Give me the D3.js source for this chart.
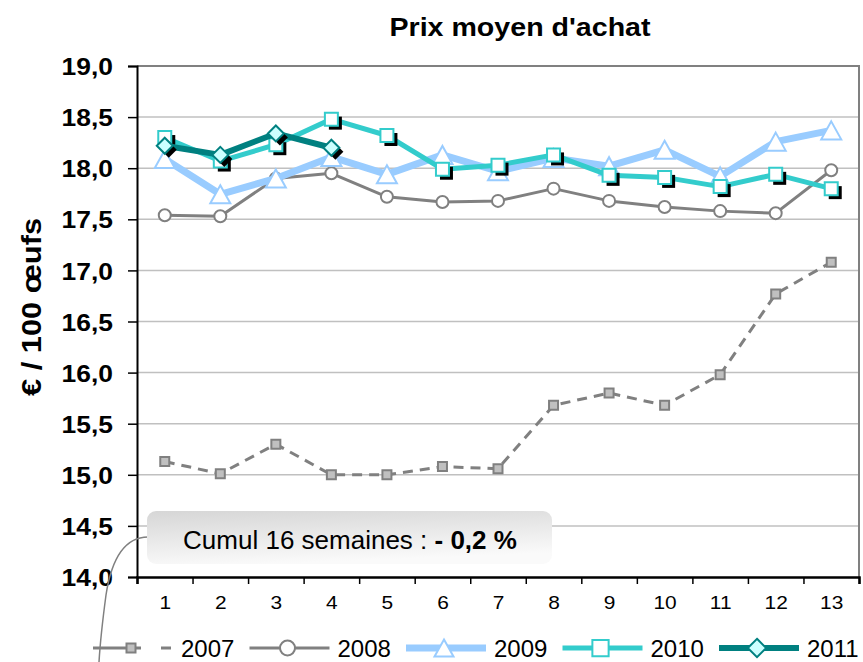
<!DOCTYPE html>
<html>
<head>
<meta charset="utf-8">
<script src="https://cdn.jsdelivr.net/npm/d3@7"></script>
<style>
  html, body { margin: 0; padding: 0; background: #fff; }
  svg { display: block; font-family: "Liberation Sans", Arial, sans-serif; }
</style>
</head>
<body>
<svg id="chart" width="863" height="662"></svg>
<script>
// Weekly average purchase price, € per 100 eggs
const categories = [1, 2, 3, 4, 5, 6, 7, 8, 9, 10, 11, 12, 13];
const years = ["2007", "2008", "2009", "2010", "2011"];
const v2007 = [15.13, 15.01, 15.30, 15.00, 15.00, 15.08, 15.06, 15.68, 15.80, 15.68, 15.98, 16.77, 17.08];
const v2008 = [17.54, 17.53, 17.90, 17.95, 17.72, 17.67, 17.68, 17.80, 17.68, 17.62, 17.58, 17.56, 17.98];
const v2009 = [18.09, 17.745, 17.90, 18.11, 17.94, 18.13, 17.97, 18.10, 18.02, 18.18, 17.92, 18.26, 18.37];
const v2010 = [18.30, 18.07, 18.23, 18.48, 18.32, 17.99, 18.03, 18.13, 17.93, 17.91, 17.82, 17.94, 17.80];
const v2011 = [18.22, 18.13, 18.34, 18.20];
const yTicks = [14.0, 14.5, 15.0, 15.5, 16.0, 16.5, 17.0, 17.5, 18.0, 18.5, 19.0];
const yTickLabels = ["14,0", "14,5", "15,0", "15,5", "16,0", "16,5", "17,0", "17,5", "18,0", "18,5", "19,0"];
const titleText = "Prix moyen d'achat";
const yTitleText = "€ / 100 œufs";
const noteText = "Cumul 16 semaines : ";
const noteValue = "- 0,2 %";

const svg = d3.select("#chart");
const plot = { left: 137, right: 859, top: 66, bottom: 577 };

const x = d3.scaleLinear().domain([0.5, 13.5]).range([plot.left, plot.right]);
const y = d3.scaleLinear().domain([14, 19]).range([plot.bottom, plot.top]);

// widen glyphs slightly along the text direction
function stretch(sel, k) {
  sel.each(function () {
    const len = this.getComputedTextLength();
    d3.select(this).attr("textLength", len * k).attr("lengthAdjust", "spacingAndGlyphs");
  });
}

// gradient for the note box
const defs = svg.append("defs");
const grad = defs.append("linearGradient").attr("id", "noteFill")
  .attr("x1", "0").attr("y1", "0").attr("x2", "0.3").attr("y2", "1");
grad.append("stop").attr("offset", "0").attr("stop-color", "#d6d6d6");
grad.append("stop").attr("offset", "1").attr("stop-color", "#fafafa");

// horizontal gridlines
svg.append("g").selectAll("line")
  .data(yTicks.filter(t => t > 14 && t < 19))
  .join("line")
  .attr("x1", plot.left).attr("x2", plot.right)
  .attr("y1", d => y(d)).attr("y2", d => y(d))
  .attr("stroke", "#c0c0c0").attr("stroke-width", 1.5);

// plot frame (top & right)
svg.append("path")
  .attr("d", `M${plot.left},${y(19)}H${plot.right}V${plot.bottom}`)
  .attr("fill", "none").attr("stroke", "#808080").attr("stroke-width", 2);

// y axis
const yAxis = svg.append("g")
  .attr("transform", `translate(${plot.left},0)`)
  .call(d3.axisLeft(y).tickValues(yTicks).tickSize(9).tickPadding(15)
    .tickFormat((d, i) => yTickLabels[i]));
yAxis.select(".domain").attr("stroke", "#000").attr("stroke-width", 2);
yAxis.selectAll(".tick line").attr("stroke", "#000").attr("stroke-width", 1.5);
yAxis.selectAll(".tick text")
  .attr("fill", "#000").attr("font-size", 24).attr("font-weight", "bold")
  .attr("font-family", "Liberation Sans, Arial, sans-serif").attr("dy", "0.36em")
  .call(stretch, 1.1);

// x axis: labels at category centres, marks at category boundaries
const xMarks = svg.append("g")
  .attr("transform", `translate(0,${plot.bottom})`)
  .call(d3.axisBottom(x).tickValues(d3.range(0.5, 14, 1)).tickSize(7).tickFormat(""));
xMarks.select(".domain").attr("stroke", "#000").attr("stroke-width", 2.5);
xMarks.selectAll(".tick line").attr("stroke", "#000").attr("stroke-width", 1.5);

const xLabels = svg.append("g")
  .attr("transform", `translate(0,${plot.bottom})`)
  .call(d3.axisBottom(x).tickValues(categories).tickSize(0).tickPadding(19));
xLabels.select(".domain").remove();
xLabels.selectAll(".tick text")
  .attr("fill", "#000").attr("font-size", 19)
  .attr("font-family", "Liberation Sans, Arial, sans-serif")
  .call(stretch, 1.1);

// titles
svg.append("text")
  .attr("x", 520).attr("y", 36).attr("text-anchor", "middle")
  .attr("font-size", 26).attr("font-weight", "bold").text(titleText)
  .call(stretch, 1.1);

svg.append("text")
  .attr("transform", "translate(41,307) rotate(-90)")
  .attr("text-anchor", "middle")
  .attr("font-size", 28).attr("font-weight", "bold").text(yTitleText)
  .call(stretch, 1.1);

// series styles
const series = [
  { name: years[0], values: v2007, color: "#808080", width: 3, dash: "10,7", marker: "sq7" },
  { name: years[1], values: v2008, color: "#808080", width: 3, dash: null, marker: "circle" },
  { name: years[2], values: v2009, color: "#99ccff", width: 7, dash: null, marker: "tri" },
  { name: years[3], values: v2010, color: "#33cccc", width: 5, dash: null, marker: "sq10", shadow: true },
  { name: years[4], values: v2011, color: "#008080", width: 6, dash: null, marker: "dia", shadow: true }
];

function markerPath(type, s) {
  const k = s || 1;
  if (type === "circle") { const r = 6 * k; return `M${-r},0A${r},${r} 0 1,0 ${r},0A${r},${r} 0 1,0 ${-r},0Z`; }
  if (type === "tri") { const w = 10 * k, h = 9 * k; return `M0,${-h}L${w},${h}L${-w},${h}Z`; }
  if (type === "sq10") { const a = 6.5 * k; return `M${-a},${-a}H${a}V${a}H${-a}Z`; }
  if (type === "sq7") { const a = 4.5 * k; return `M${-a},${-a}H${a}V${a}H${-a}Z`; }
  if (type === "dia") { const a = 8 * k; return `M0,${-a}L${a},0L0,${a}L${-a},0Z`; }
}
function markerFill(s) {
  if (s.marker === "sq7") return "#c0c0c0";
  if (s.marker === "dia") return "#ccffff";
  return "#fff";
}

const line = d3.line().x((d, i) => x(categories[i])).y(d => y(d));

series.forEach(s => {
  const g = svg.append("g");
  g.append("path")
    .attr("d", line(s.values))
    .attr("fill", "none").attr("stroke", s.color).attr("stroke-width", s.width)
    .attr("stroke-linejoin", "round")
    .attr("stroke-dasharray", s.dash);
  if (s.shadow) {
    g.selectAll(".shadow").data(s.values).join("path")
      .attr("class", "shadow")
      .attr("transform", (d, i) => `translate(${x(categories[i]) + 4},${y(d) + 4})`)
      .attr("d", markerPath(s.marker)).attr("fill", "#000");
  }
  g.selectAll(".mk").data(s.values).join("path")
    .attr("class", "mk")
    .attr("transform", (d, i) => `translate(${x(categories[i])},${y(d)})`)
    .attr("d", markerPath(s.marker))
    .attr("fill", markerFill(s)).attr("stroke", s.color)
    .attr("stroke-width", 2);
});

// note box with its connector
svg.append("path")
  .attr("d", "M148,537C126,537 112,556 106,595C102,625 100,645 99,662")
  .attr("fill", "none").attr("stroke", "#808080").attr("stroke-width", 1.5);
svg.append("rect")
  .attr("x", 147).attr("y", 511).attr("width", 405).attr("height", 53).attr("rx", 9)
  .attr("fill", "url(#noteFill)");
const note = svg.append("text").attr("x", 350).attr("y", 549).attr("text-anchor", "middle")
  .attr("font-size", 26).attr("fill", "#000");
note.append("tspan").text(noteText);
note.append("tspan").attr("font-weight", "bold").text(noteValue);

// legend
const legendScale = { sq7: 1, circle: 1.25, tri: 0.95, sq10: 1.25, dia: 1.15 };
const legend = svg.append("g");
series.forEach((s, i) => {
  const x0 = 93 + i * 156.5, yl = 648, lw = 80;
  const g = legend.append("g");
  g.append("line").attr("x1", x0).attr("x2", x0 + lw).attr("y1", yl).attr("y2", yl)
    .attr("stroke", s.color).attr("stroke-width", s.width)
    .attr("stroke-dasharray", s.dash ? "48,20,10,200" : null);
  g.append("path").attr("transform", `translate(${x0 + lw / 2 - 2},${yl})`)
    .attr("d", markerPath(s.marker, legendScale[s.marker]))
    .attr("fill", markerFill(s)).attr("stroke", s.color).attr("stroke-width", 2);
  g.append("text").attr("x", x0 + lw + 8).attr("y", yl + 9)
    .attr("font-size", 24).attr("fill", "#000").text(s.name);
});
</script>
</body>
</html>
